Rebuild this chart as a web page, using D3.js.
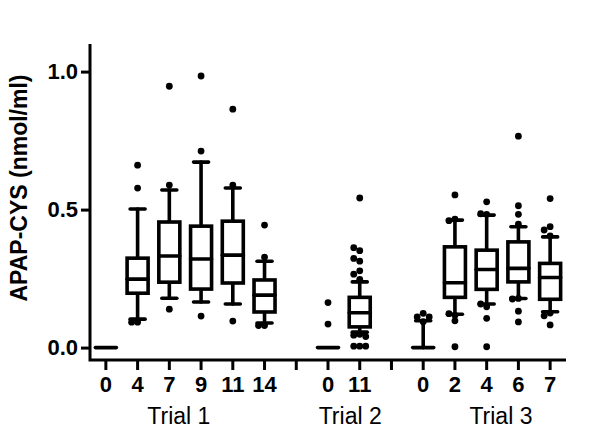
<!DOCTYPE html>
<html>
<head>
<meta charset="utf-8">
<script src="https://cdn.jsdelivr.net/npm/d3@7"></script>
<style>
  body { margin: 0; background: #fff; }
  text { font-family: Arial, "Liberation Sans", sans-serif; }
</style>
</head>
<body>
<div id="chart"></div>
<script>
// slot labels along the x axis (blank slots separate the trials)
const slotLabels = ["0", "4", "7", "9", "11", "14", "", "0", "11", "", "0", "2", "4", "6", "7"];
const trials = ["Trial 1", "Trial 2", "Trial 3"];
const trialLabelSlot = [2.3, 7.7, 12.45];
const yTicks = [0, 0.5, 1.0];

// box stats per slot: [whisker low, q1, median, q3, whisker high]
const boxStats = [
  [0, 0, 0, 0, 0],
  [0.103, 0.197, 0.248, 0.324, 0.502],
  [0.179, 0.237, 0.332, 0.455, 0.571],
  [0.165, 0.212, 0.321, 0.440, 0.672],
  [0.158, 0.234, 0.335, 0.458, 0.578],
  [0.089, 0.129, 0.190, 0.245, 0.313],
  null,
  [0, 0, 0, 0, 0],
  [0.056, 0.075, 0.126, 0.182, 0.238],
  null,
  [0, 0, 0, 0, 0.097],
  [0.121, 0.182, 0.235, 0.365, 0.462],
  [0.158, 0.211, 0.283, 0.353, 0.480],
  [0.178, 0.238, 0.287, 0.383, 0.438],
  [0.130, 0.175, 0.254, 0.305, 0.401]
];

// points outside the whiskers
const outliers = [
  [],
  [0.578, 0.661, 0.092, 0.092],
  [0.589, 0.947, 0.139],
  [0.712, 0.984, 0.114],
  [0.589, 0.864, 0.096],
  [0.444, 0.328, 0.080, 0.080],
  [],
  [0.163, 0.085],
  [0.247, 0.266, 0.278, 0.313, 0.323, 0.351, 0.362, 0.542, 0.048, 0.045, 0.040, 0.005, 0.005, 0.005],
  [],
  [0.124, 0.111, 0.111, 0.094],
  [0.553, 0.465, 0.460, 0.117, 0.123, 0.097, 0.003],
  [0.528, 0.483, 0.485, 0.148, 0.158, 0.106, 0.003],
  [0.766, 0.514, 0.483, 0.447, 0.178, 0.176, 0.132, 0.093],
  [0.540, 0.438, 0.426, 0.405, 0.125, 0.115, 0.082]
];

const W = 600, H = 444;
const svg = d3.select("#chart").append("svg")
    .attr("width", W)
    .attr("height", H);

const x = d3.scaleBand().domain(d3.range(slotLabels.length)).range([90, 566]);
const y = d3.scaleLinear().domain([-0.045, 1.1]).range([360, 44]);
const cx = (i) => x(i) + x.bandwidth() / 2;

const boxW = 21, capW = 15, lw = 3, boxLw = 3.6;

// axes
const xAxis = svg.append("g")
    .attr("transform", "translate(0,360)")
    .call(d3.axisBottom(x).tickSize(10).tickPadding(5).tickFormat((i) => slotLabels[i]));
const yAxis = svg.append("g")
    .attr("transform", "translate(90,0)")
    .call(d3.axisLeft(y).tickValues(yTicks).tickSize(9).tickPadding(3).tickFormat(d3.format(".1f")));

[xAxis, yAxis].forEach((g) => {
    g.select(".domain").attr("d", null);
    g.selectAll(".tick line").attr("stroke", "#000").attr("stroke-width", lw);
    g.selectAll(".tick text")
        .attr("fill", "#000")
        .style("font-size", "22px")
        .style("font-weight", "bold");
});
xAxis.selectAll(".tick text").attr("dy", "0.75em");

svg.append("path")
    .attr("d", `M90,44V360H566`)
    .attr("fill", "none")
    .attr("stroke", "#000")
    .attr("stroke-width", lw);

// boxes
const g = svg.append("g");
boxStats.forEach((s, i) => {
    if (!s) return;
    const c = cx(i);
    const [lo, q1, md, q3, hi] = s;
    if (hi > q3) {
        g.append("line").attr("x1", c).attr("x2", c).attr("y1", y(q3)).attr("y2", y(hi));
        g.append("line").attr("x1", c - capW / 2).attr("x2", c + capW / 2).attr("y1", y(hi)).attr("y2", y(hi));
    }
    if (lo < q1) {
        g.append("line").attr("x1", c).attr("x2", c).attr("y1", y(q1)).attr("y2", y(lo));
        g.append("line").attr("x1", c - capW / 2).attr("x2", c + capW / 2).attr("y1", y(lo)).attr("y2", y(lo));
    }
    if (q3 > q1) {
        g.append("rect")
            .attr("x", c - boxW / 2).attr("width", boxW)
            .attr("y", y(q3)).attr("height", y(q1) - y(q3))
            .attr("fill", "#fff");
    }
    g.append("line").attr("x1", c - boxW / 2).attr("x2", c + boxW / 2).attr("y1", y(md)).attr("y2", y(md));
});
g.selectAll("line, rect")
    .attr("stroke", "#000")
    .attr("stroke-width", boxLw)
    .attr("stroke-linecap", "round");

// outlier dots, nudged sideways when they would overlap
const r = 3.4;
outliers.forEach((vals, i) => {
    const placed = [];
    vals.forEach((v) => {
        const py = y(v);
        const offs = [0, -6, 6, -12, 12];
        let px = cx(i);
        for (const o of offs) {
            const tx = cx(i) + o;
            if (!placed.some((p) => Math.hypot(p[0] - tx, p[1] - py) < 5.5)) { px = tx; break; }
        }
        placed.push([px, py]);
        svg.append("circle").attr("cx", px).attr("cy", py).attr("r", r).attr("fill", "#000");
    });
});

// trial labels
svg.selectAll(".trial")
    .data(trials)
    .enter().append("text")
    .attr("class", "trial")
    .attr("x", (d, i) => x(0) + x.bandwidth() * (trialLabelSlot[i] + 0.5))
    .attr("y", 424)
    .attr("text-anchor", "middle")
    .style("font-size", "23px")
    .text((d) => d);

// y axis title
svg.append("text")
    .attr("transform", "translate(27,188) rotate(-90)")
    .attr("text-anchor", "middle")
    .style("font-size", "23px")
    .style("font-weight", "bold")
    .text("APAP-CYS (nmol/ml)");
</script>
</body>
</html>
